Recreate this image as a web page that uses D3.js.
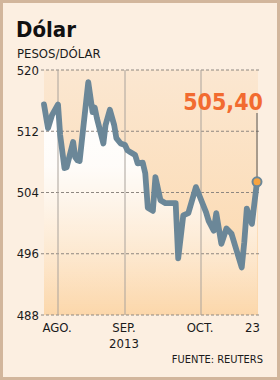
<!DOCTYPE html>
<html>
<head>
<meta charset="utf-8">
<script src="https://cdn.jsdelivr.net/npm/d3@7"></script>
<style>
  html, body { margin: 0; padding: 0; background: #fcefe1; }
  svg { display: block; }
  text { font-family: "DejaVu Sans Condensed", "DejaVu Sans", sans-serif; font-stretch: condensed; }
</style>
</head>
<body>
<script>
const dates = ["2013-07-25","2013-07-27","2013-07-29","2013-08-01","2013-08-02","2013-08-04","2013-08-05","2013-08-08","2013-08-09","2013-08-10","2013-08-11","2013-08-15","2013-08-17","2013-08-18","2013-08-19","2013-08-22","2013-08-23","2013-08-25","2013-08-27","2013-08-28","2013-08-30","2013-09-01","2013-09-02","2013-09-03","2013-09-05","2013-09-06","2013-09-08","2013-09-09","2013-09-10","2013-09-12","2013-09-13","2013-09-15","2013-09-17","2013-09-19","2013-09-21","2013-09-22","2013-09-24","2013-09-26","2013-09-29","2013-09-30","2013-10-03","2013-10-04","2013-10-06","2013-10-07","2013-10-09","2013-10-11","2013-10-13","2013-10-17","2013-10-18","2013-10-19","2013-10-21","2013-10-23"];
const values = [515.5,512.4,514.1,515.5,511.5,507.2,507.3,510.6,508.6,508.2,508.1,518.4,514.5,515.1,513.7,510.4,512.8,514.8,512.8,511.1,510.4,510.2,509.5,509.3,508.9,507.8,507.9,506.5,502.0,501.6,506.0,503.0,502.6,502.6,502.6,495.4,501.0,501.3,504.7,503.9,501.4,500.3,499.0,501.3,497.3,499.3,498.6,494.2,497.5,501.9,499.9,505.4];
const yTicks = [488, 496, 504, 512, 520];
const monthDates = ["2013-08-01","2013-09-01","2013-10-01"];
const monthLabels = ["AGO.","SEP.","OCT."];
const lastLabelText = "505,40";
const title = "Dólar";
const subtitle = "PESOS/DÓLAR";
const yearLabel = "2013";
const endLabel = "23";
const source = "FUENTE: REUTERS";

const W = 280, H = 380;
const parse = d3.timeParse("%Y-%m-%d");
const data = dates.map((d, i) => ({ date: parse(d), value: values[i] }));

const x = d3.scaleTime()
  .domain([parse("2013-07-25"), parse("2013-08-01"), parse("2013-09-01"), parse("2013-10-01"), parse("2013-10-23")])
  .range([44, 58, 125, 201, 257]);
const y = d3.scaleLinear().domain([488, 520]).range([315, 70]);

const svg = d3.select("body").append("svg").attr("width", W).attr("height", H);
const defs = svg.append("defs");

const bgGrad = defs.append("linearGradient").attr("id", "bgGrad")
  .attr("x1", 0).attr("x2", 0).attr("y1", 0).attr("y2", 1);
bgGrad.append("stop").attr("offset", "0%").attr("stop-color", "#fbe7d1");
bgGrad.append("stop").attr("offset", "100%").attr("stop-color", "#fcd7aa");

const areaGrad = defs.append("linearGradient").attr("id", "areaGrad")
  .attr("gradientUnits", "userSpaceOnUse")
  .attr("x1", 0).attr("x2", 0).attr("y1", y(518)).attr("y2", y(488));
areaGrad.append("stop").attr("offset", "0%").attr("stop-color", "#ffffff").attr("stop-opacity", 1);
areaGrad.append("stop").attr("offset", "35%").attr("stop-color", "#ffffff").attr("stop-opacity", 0.9);
areaGrad.append("stop").attr("offset", "100%").attr("stop-color", "#ffffff").attr("stop-opacity", 0);

// frame
svg.append("rect").attr("x", 1.5).attr("y", 1.5).attr("width", W - 3).attr("height", H - 3)
  .attr("fill", "#fcefe1").attr("stroke", "#d2b69c").attr("stroke-width", 3);

const [x0, x1] = [x.range()[0], x.range()[x.range().length - 1]];
// plot background
svg.append("rect").attr("x", x0).attr("y", y(520)).attr("width", x1 - x0 + 1)
  .attr("height", y(488) - y(520)).attr("fill", "url(#bgGrad)");

// area under line
const area = d3.area().x(d => x(d.date)).y0(y(488)).y1(d => y(d.value));
svg.append("path").datum(data).attr("d", area).attr("fill", "url(#areaGrad)");

// horizontal gridlines
svg.append("g").selectAll("line").data(yTicks).join("line")
  .attr("x1", 41).attr("x2", 260)
  .attr("y1", d => y(d)).attr("y2", d => y(d))
  .attr("stroke", "#8e8780").attr("stroke-width", 1).attr("stroke-dasharray", "3,2");

// y labels
svg.append("g").selectAll("text").data(yTicks).join("text")
  .attr("x", 39).attr("y", d => y(d)).attr("dy", "0.36em")
  .attr("text-anchor", "end").attr("font-size", 13).attr("fill", "#1a1a1a")
  .text(d => d);

// month lines
svg.append("g").selectAll("line").data(monthDates).join("line")
  .attr("x1", d => x(parse(d))).attr("x2", d => x(parse(d)))
  .attr("y1", y(520)).attr("y2", y(488))
  .attr("stroke", "#aaa39c").attr("stroke-width", 1);

// month labels
svg.append("g").selectAll("text").data(monthDates).join("text")
  .attr("x", d => x(parse(d)) - 1).attr("y", 332)
  .attr("text-anchor", "middle").attr("font-size", 13).attr("fill", "#1a1a1a")
  .text((d, i) => monthLabels[i]);
svg.append("text").attr("x", x(parse(monthDates[1])) - 1).attr("y", 348)
  .attr("text-anchor", "middle").attr("font-size", 13).attr("fill", "#1a1a1a").text(yearLabel);
svg.append("text").attr("x", x(data[data.length - 1].date) + 3).attr("y", 332)
  .attr("text-anchor", "end").attr("font-size", 13).attr("fill", "#1a1a1a").text(endLabel);

// line
const line = d3.line().x(d => x(d.date)).y(d => y(d.value));
svg.append("path").datum(data).attr("d", line)
  .attr("fill", "none").attr("stroke", "#6b8798").attr("stroke-width", 5.8)
  .attr("stroke-linejoin", "round").attr("stroke-linecap", "round");

// annotation
const last = data[data.length - 1];
svg.append("line").attr("x1", x(last.date)).attr("x2", x(last.date))
  .attr("y1", 113).attr("y2", y(last.value))
  .attr("stroke", "#555").attr("stroke-width", 1);
svg.append("circle").attr("cx", x(last.date)).attr("cy", y(last.value)).attr("r", 4.5)
  .attr("fill", "#f7a33f").attr("stroke", "#6b8798").attr("stroke-width", 2);
svg.append("text").attr("x", x(last.date) + 6).attr("y", 110)
  .attr("text-anchor", "end").attr("font-size", 23).attr("font-weight", "bold")
  .attr("fill", "#f26b30").text(lastLabelText);

// titles
svg.append("text").attr("x", 16).attr("y", 37).attr("font-size", 22).attr("font-weight", "bold")
  .attr("fill", "#111").text(title);
svg.append("text").attr("x", 17).attr("y", 58).attr("font-size", 13).attr("fill", "#1a1a1a").text(subtitle);

// source
svg.append("text").attr("x", 263).attr("y", 363).attr("text-anchor", "end")
  .attr("font-size", 11).attr("fill", "#1a1a1a").text(source);
</script>
</body>
</html>
